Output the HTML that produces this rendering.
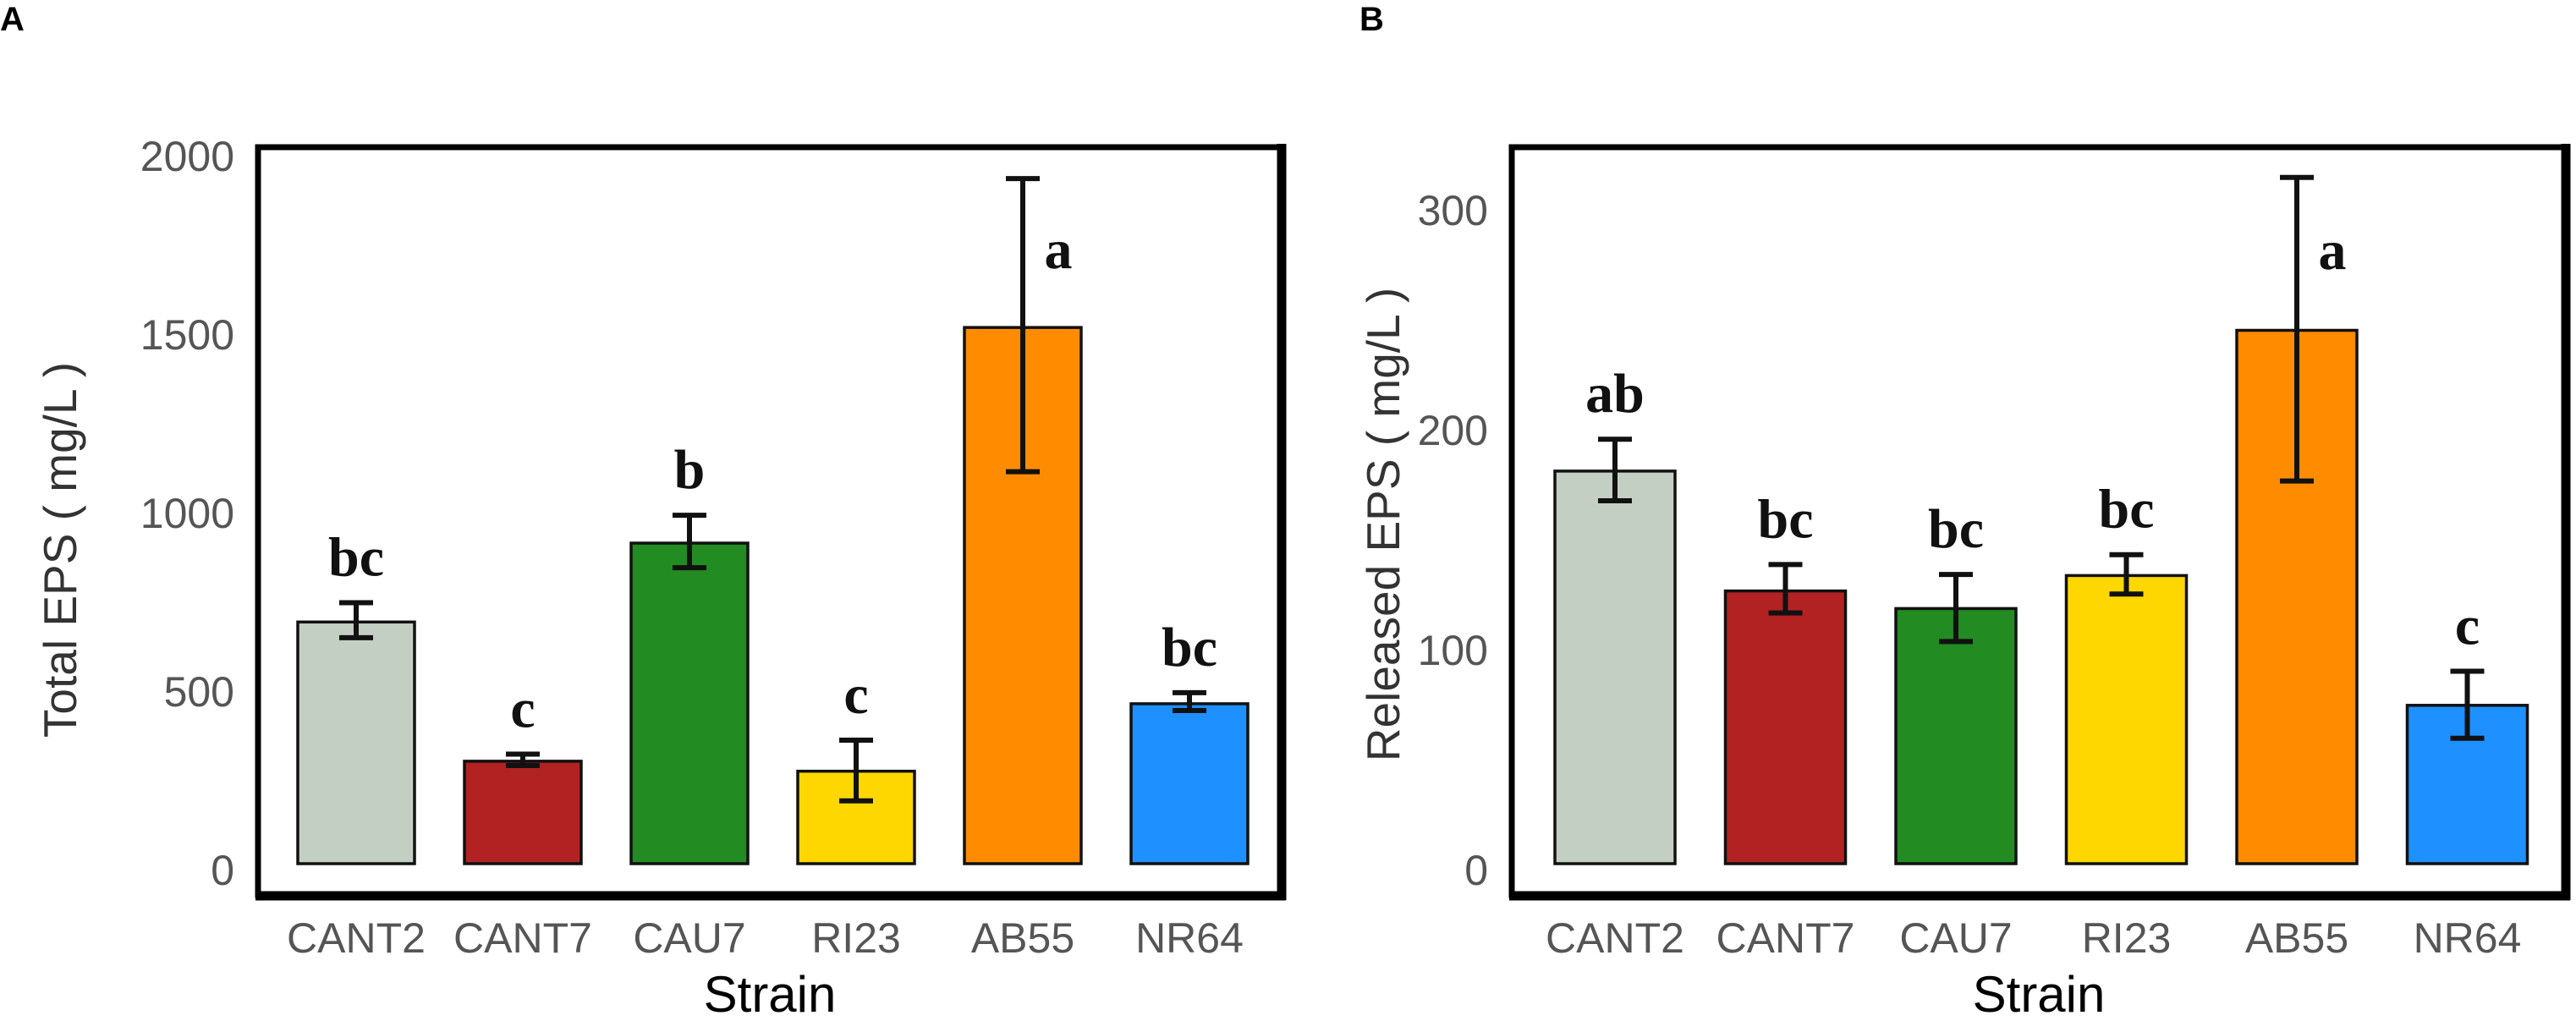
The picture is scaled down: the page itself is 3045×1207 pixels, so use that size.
<!DOCTYPE html>
<html><head><meta charset="utf-8">
<style>
html,body{margin:0;padding:0;background:#fff;}
svg{display:block;}
</style></head>
<body>
<svg id="chart" xmlns="http://www.w3.org/2000/svg" width="3045" height="1207" viewBox="0 0 3045 1207">
<rect x="0" y="0" width="3045" height="1207" fill="#fff"/>
</svg>
<script>
const categories = ["CANT2","CANT7","CAU7","RI23","AB55","NR64"];
const colors = ["#c3cfc3","#b22222","#228b22","#ffd700","#ff8c00","#1e90ff"];
const totalValues = [677, 287, 898, 259, 1502, 448];
const totalErrHigh = [731, 307, 976, 346, 1919, 479];
const totalErrLow = [633, 275, 829, 176, 1098, 429];
const totalLetters = ["bc","c","b","c","a","bc"];
const totalTicks = [0, 500, 1000, 1500, 2000];
const relValues = [178.5, 124, 116, 131, 242.5, 72];
const relErrHigh = [193, 136, 131.5, 140.5, 312, 87.5];
const relErrLow = [165, 114, 101, 122.6, 174, 57];
const relLetters = ["ab","bc","bc","bc","a","c"];
const relTicks = [0, 100, 200, 300];

const NS = "http://www.w3.org/2000/svg";
const svg = document.getElementById("chart");
function mk(tag, attrs, parent){
  const e = document.createElementNS(NS, tag);
  for (const k in attrs) e.setAttribute(k, attrs[k]);
  (parent||svg).appendChild(e);
  return e;
}

function panel(cfg){
  const g = mk("g", {});
  
  
  const y = v => cfg.y0 - v * (cfg.y0 - cfg.yTop) / cfg.vTop;
  const x = i => cfg.xStart + i * cfg.step;

  const pl = mk("text", {x: cfg.letterX, y: 36, "font-family": "Liberation Sans, sans-serif", "font-size": 40, "font-weight": "bold", fill: "#000"}, g);
  pl.textContent = cfg.letter;
  
  

  cfg.ticks.forEach(t => {
    const tl = mk("text", {x: cfg.left - 28, y: y(t) + 25, "text-anchor": "end", "font-family": "Liberation Sans, sans-serif", "font-size": 50, fill: "#555"}, g);
    tl.textContent = t;
    
    
  });

  const yt = mk("text", {x: 0, y: 0, transform: `translate(${cfg.yTitleX},${cfg.yTitleY}) rotate(-90)`, "text-anchor": "middle", "font-family": "Liberation Sans, sans-serif", "font-size": 55, fill: "#333"}, g);
  yt.textContent = cfg.yTitle;
  
  

  cfg.values.forEach((v, i) => {
    const b = mk("rect", {x: x(i) - cfg.bw/2, y: y(v), width: cfg.bw, height: y(0) - y(v), fill: colors[i], stroke: "#111", "stroke-width": 3.5}, g);
    
    
    const cx = x(i), hi = y(cfg.hi[i]), lo = y(cfg.lo[i]);
    const eb = mk("g", {stroke: "#111", "stroke-width": 6}, g);
    
    
    mk("line", {x1: cx, x2: cx, y1: hi, y2: lo}, eb);
    mk("line", {x1: cx - 20, x2: cx + 20, y1: hi, y2: hi}, eb);
    mk("line", {x1: cx - 20, x2: cx + 20, y1: lo, y2: lo}, eb);
    let lx = cx, ly = hi - 32;
    if (cfg.letters[i] === "a") { lx = cx + 42; ly = hi + 0.6 * (y(cfg.values[i]) - hi); }
    const lt = mk("text", {x: lx, y: ly, "text-anchor": "middle", "font-family": "Liberation Serif, serif", "font-size": 66, "font-weight": "bold", fill: "#111"}, g);
    lt.textContent = cfg.letters[i];
    
    
    const xl = mk("text", {x: cx, y: 1126, "text-anchor": "middle", "font-family": "Liberation Sans, sans-serif", "font-size": 50, fill: "#555"}, g);
    xl.textContent = categories[i];
    
    
  });

  const fr = mk("rect", {x: cfg.left, y: 174, width: cfg.right - cfg.left, height: 1058 - 174, fill: "none", stroke: "#000", "stroke-width": 7}, g);
  
  
  mk("line", {x1: cfg.right, x2: cfg.right, y1: 170, y2: 1064, stroke: "#000", "stroke-width": 11}, g);
  mk("line", {x1: cfg.left - 3, x2: cfg.right + 5, y1: 1059, y2: 1059, stroke: "#000", "stroke-width": 11}, g);

  const xt = mk("text", {x: (cfg.left + cfg.right)/2, y: 1196, "text-anchor": "middle", "font-family": "Liberation Sans, sans-serif", "font-size": 60, fill: "#000"}, g);
  xt.textContent = "Strain";
  
  
}

panel({name: "panel-a-total-eps", letter: "A", letterX: 0, left: 305, right: 1515,
  y0: 1021, yTop: 177, vTop: 2000, xStart: 421, step: 197, bw: 138,
  ticks: totalTicks, values: totalValues, hi: totalErrHigh, lo: totalErrLow, letters: totalLetters,
  yTitle: "Total EPS ( mg/L )", yTitleX: 90, yTitleY: 650});
panel({name: "panel-b-released-eps", letter: "B", letterX: 1607, left: 1787, right: 3033,
  y0: 1021, yTop: 241, vTop: 300, xStart: 1909, step: 201.5, bw: 142,
  ticks: relTicks, values: relValues, hi: relErrHigh, lo: relErrLow, letters: relLetters,
  yTitle: "Released EPS ( mg/L )", yTitleX: 1654, yTitleY: 620});
</script>
</body></html>
